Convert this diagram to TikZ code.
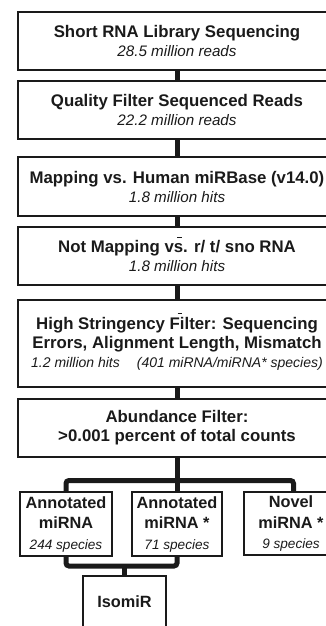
\documentclass[tikz,border=0pt]{standalone}
\usepackage{fontspec}
\setmainfont{Liberation Sans}
\definecolor{ink}{HTML}{1A1A1A}
\newcommand{\subl}[2][15.2]{{\normalfont\itshape\fontsize{#1}{19}\selectfont #2}}
\begin{document}
\begin{tikzpicture}[x=1pt,y=-1pt,
 box/.style={draw=ink, line width=2pt, inner sep=0pt, align=center, text=ink, font=\bfseries\fontsize{16.8}{19}\selectfont},
 smallbox/.style={box, font=\bfseries\fontsize{16.3}{20.5}\selectfont},
 conn/.style={draw=ink, line width=5pt, rounded corners=3pt},
 tick/.style={draw=ink, line width=1pt}
 ]
\useasboundingbox (0,0) rectangle (326,626);
\clip (0,0) rectangle (326,626);
\node[box, minimum width=318, minimum height=58] (b1) at (177,41) {Short RNA Library Sequencing\\\subl{28.5 million reads}};
\node[box, minimum width=318, minimum height=58] (b2) at (177,110) {Quality Filter Sequenced Reads\\\subl{22.2 million reads}};
\node[box, minimum width=318, minimum height=59] (b3) at (177,186.5) {Mapping vs. Human miRBase (v14.0)\\\subl{1.8 million hits}};
\node[box, minimum width=318, minimum height=58] (b4) at (177,256) {Not Mapping vs. r/ t/ sno RNA\\\subl{1.8 million hits}};
\node[box, minimum width=318, minimum height=87] (b5) at (177,343.5) {High Stringency Filter: Sequencing\\Errors, Alignment Length, Mismatch\\\subl[14]{1.2 million hits\hspace{17pt}(401 miRNA/miRNA* species)}};
\node[box, minimum width=318, minimum height=58] (b6) at (177,428) {Abundance Filter:\\>0.001 percent of total counts};
\node[smallbox, minimum width=92, minimum height=64] (a1) at (66,524) {Annotated\\miRNA\\\subl[13.6]{244 species}};
\node[smallbox, minimum width=90, minimum height=64] (a2) at (177,524) {Annotated\\miRNA *\\\subl[13.6]{71 species}};
\node[smallbox, minimum width=94, minimum height=63] (nv) at (291,523.5) {Novel\\miRNA *\\\subl[13.6]{9 species}};
\node[smallbox, minimum width=83, minimum height=60] (iso) at (124.5,606) {\raisebox{9pt}{IsomiR}};
\draw[conn] (b1.south) -- (b2.north);
\draw[conn] (b2.south) -- (b3.north);
\draw[conn] (b3.south) -- (b4.north);
\draw[conn] (b4.south) -- (b5.north);
\draw[conn] (b5.south) -- (b6.north);
\coordinate (bar) at (177,480.5);
\coordinate (bar2) at (124.5,566);
\draw[conn] (b6.south) -- (a2.north);
\draw[conn] (a1.north) |- (bar) -| ([xshift=2.5pt]nv.north);
\draw[conn] (a1.south) |- (bar2) -| (a2.south);
\draw[conn] (bar2) -- (iso.north);
\draw[tick] (177,237) -- (182,237);
\draw[tick] (177.5,313) -- (182,313);
\end{tikzpicture}
\end{document}
